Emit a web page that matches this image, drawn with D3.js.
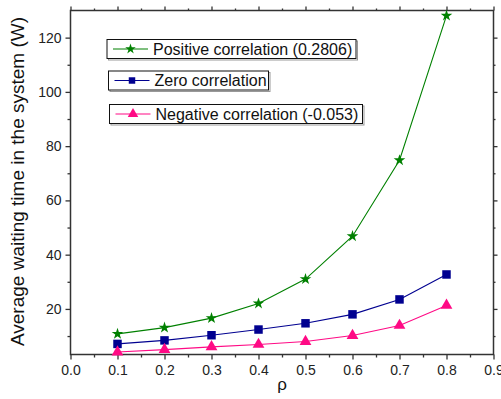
<!DOCTYPE html>
<html>
<head>
<meta charset="utf-8">
<script src="https://cdn.jsdelivr.net/npm/d3@7"></script>
<style>
  body { margin: 0; background: #fff; }
  svg { font-family: "Liberation Sans", Arial, sans-serif; }
</style>
</head>
<body>
<svg width="501" height="399"></svg>
<script>
var rho = [0.1, 0.2, 0.3, 0.4, 0.5, 0.6, 0.7, 0.8];
var positive = [10.8, 13.1, 16.6, 22.0, 31.0, 46.8, 74.8, 128.1];
var zero = [7.1, 8.4, 10.3, 12.4, 14.7, 18.0, 23.5, 32.7];
var negative = [4.1, 5.0, 6.0, 6.9, 8.0, 10.2, 13.9, 21.3];
var seriesNames = ["Positive correlation (0.2806)", "Zero correlation", "Negative correlation (-0.053)"];
var xTicks = [0.0, 0.1, 0.2, 0.3, 0.4, 0.5, 0.6, 0.7, 0.8, 0.9];
var xMinor = [0.05, 0.15, 0.25, 0.35, 0.45, 0.55, 0.65, 0.75, 0.85];
var yTicks = [20, 40, 60, 80, 100, 120];
var yMinor = [10, 30, 50, 70, 90, 110];

(function() {
    var svg = d3.select("svg");
    var pLeft = 70.5, pRight = 493.5, pTop = 10.5, pBottom = 354.5;

    var x = d3.scaleLinear().domain([0, 0.9]).range([pLeft, pRight]);
    var y = d3.scaleLinear().domain([3.2, 130]).range([pBottom, pTop]);

    var series = [
        {name: seriesNames[0], values: positive, color: "#008000", symbol: d3.symbolStar, size: 42, legSize: 34},
        {name: seriesNames[1], values: zero, color: "#000090", symbol: d3.symbolSquare, size: 72, legSize: 42},
        {name: seriesNames[2], values: negative, color: "#ff0a85", symbol: d3.symbolTriangle, size: 60, legSize: 48}
    ];

    // frame
    svg.append("rect")
        .attr("x", pLeft).attr("y", pTop)
        .attr("width", pRight - pLeft).attr("height", pBottom - pTop)
        .attr("fill", "none").attr("stroke", "#333").attr("stroke-width", 1.5);

    function styleAxis(g) {
        g.select(".domain").remove();
        g.selectAll("line").attr("stroke", "#333").attr("stroke-width", 1.3);
        g.selectAll("text").attr("fill", "#222").style("font-size", "14px");
    }

    // bottom / top
    svg.append("g").attr("transform", "translate(0," + pBottom + ")")
        .call(d3.axisBottom(x).tickValues(xTicks).tickFormat(d3.format(".1f")).tickSize(5).tickPadding(6))
        .call(styleAxis);
    svg.append("g").attr("transform", "translate(0," + pBottom + ")")
        .call(d3.axisBottom(x).tickValues(xMinor).tickFormat("").tickSize(3))
        .call(styleAxis);
    svg.append("g").attr("transform", "translate(0," + pTop + ")")
        .call(d3.axisTop(x).tickValues(xTicks).tickFormat("").tickSize(4))
        .call(styleAxis);
    svg.append("g").attr("transform", "translate(0," + pTop + ")")
        .call(d3.axisTop(x).tickValues(xMinor).tickFormat("").tickSize(2))
        .call(styleAxis);

    // left / right
    svg.append("g").attr("transform", "translate(" + pLeft + ",0)")
        .call(d3.axisLeft(y).tickValues(yTicks).tickSize(5).tickPadding(4))
        .call(styleAxis);
    svg.append("g").attr("transform", "translate(" + pLeft + ",0)")
        .call(d3.axisLeft(y).tickValues(yMinor).tickFormat("").tickSize(3))
        .call(styleAxis);
    svg.append("g").attr("transform", "translate(" + pRight + ",0)")
        .call(d3.axisRight(y).tickValues(yTicks).tickFormat("").tickSize(4))
        .call(styleAxis);
    svg.append("g").attr("transform", "translate(" + pRight + ",0)")
        .call(d3.axisRight(y).tickValues(yMinor).tickFormat("").tickSize(2))
        .call(styleAxis);

    // axis titles
    svg.append("text")
        .attr("transform", "translate(24," + ((pTop + pBottom) / 2 - 1) + ") rotate(-90)")
        .attr("text-anchor", "middle")
        .style("font-size", "19px").attr("fill", "#111")
        .text("Average waiting time in the system (W)");
    svg.append("text")
        .attr("x", 282).attr("y", 390)
        .attr("text-anchor", "middle")
        .style("font-size", "17px").attr("fill", "#111")
        .text("ρ");

    // lines and markers
    var line = d3.line()
        .x(function(d, i) { return x(rho[i]); })
        .y(function(d) { return y(d); });

    series.forEach(function(s) {
        svg.append("path")
            .datum(s.values)
            .attr("d", line)
            .attr("fill", "none")
            .attr("stroke", s.color)
            .attr("stroke-width", 1.1);
        svg.append("g").selectAll("path")
            .data(s.values)
            .enter().append("path")
            .attr("transform", function(d, i) { return "translate(" + x(rho[i]) + "," + y(d) + ")"; })
            .attr("d", d3.symbol().type(s.symbol).size(s.size))
            .attr("fill", s.color);
    });

    // legend: three separate boxes
    var legendBoxes = [
        {x: 107, y: 39.5, w: 249, h: 19},
        {x: 108.5, y: 71, w: 160, h: 19},
        {x: 109.5, y: 104.5, w: 253, h: 19}
    ];
    series.forEach(function(s, i) {
        var b = legendBoxes[i];
        var g = svg.append("g").attr("transform", "translate(" + b.x + "," + b.y + ")");
        g.append("rect")
            .attr("x", 1.5).attr("y", 1.5).attr("width", b.w).attr("height", b.h)
            .attr("fill", "none").attr("stroke", "#999").attr("stroke-width", 1);
        g.append("rect")
            .attr("width", b.w).attr("height", b.h)
            .attr("fill", "#fff").attr("stroke", "#111").attr("stroke-width", 1);
        g.append("line")
            .attr("x1", 6).attr("x2", 41).attr("y1", b.h / 2).attr("y2", b.h / 2)
            .attr("stroke", s.color).attr("stroke-width", 1.1);
        g.append("path")
            .attr("transform", "translate(23.5," + (b.h / 2) + ")")
            .attr("d", d3.symbol().type(s.symbol).size(s.legSize))
            .attr("fill", s.color);
        g.append("text")
            .attr("x", 46).attr("y", b.h / 2 + 5.5)
            .style("font-size", "16px").attr("fill", "#111")
            .text(s.name);
    });
})();
</script>
</body>
</html>
